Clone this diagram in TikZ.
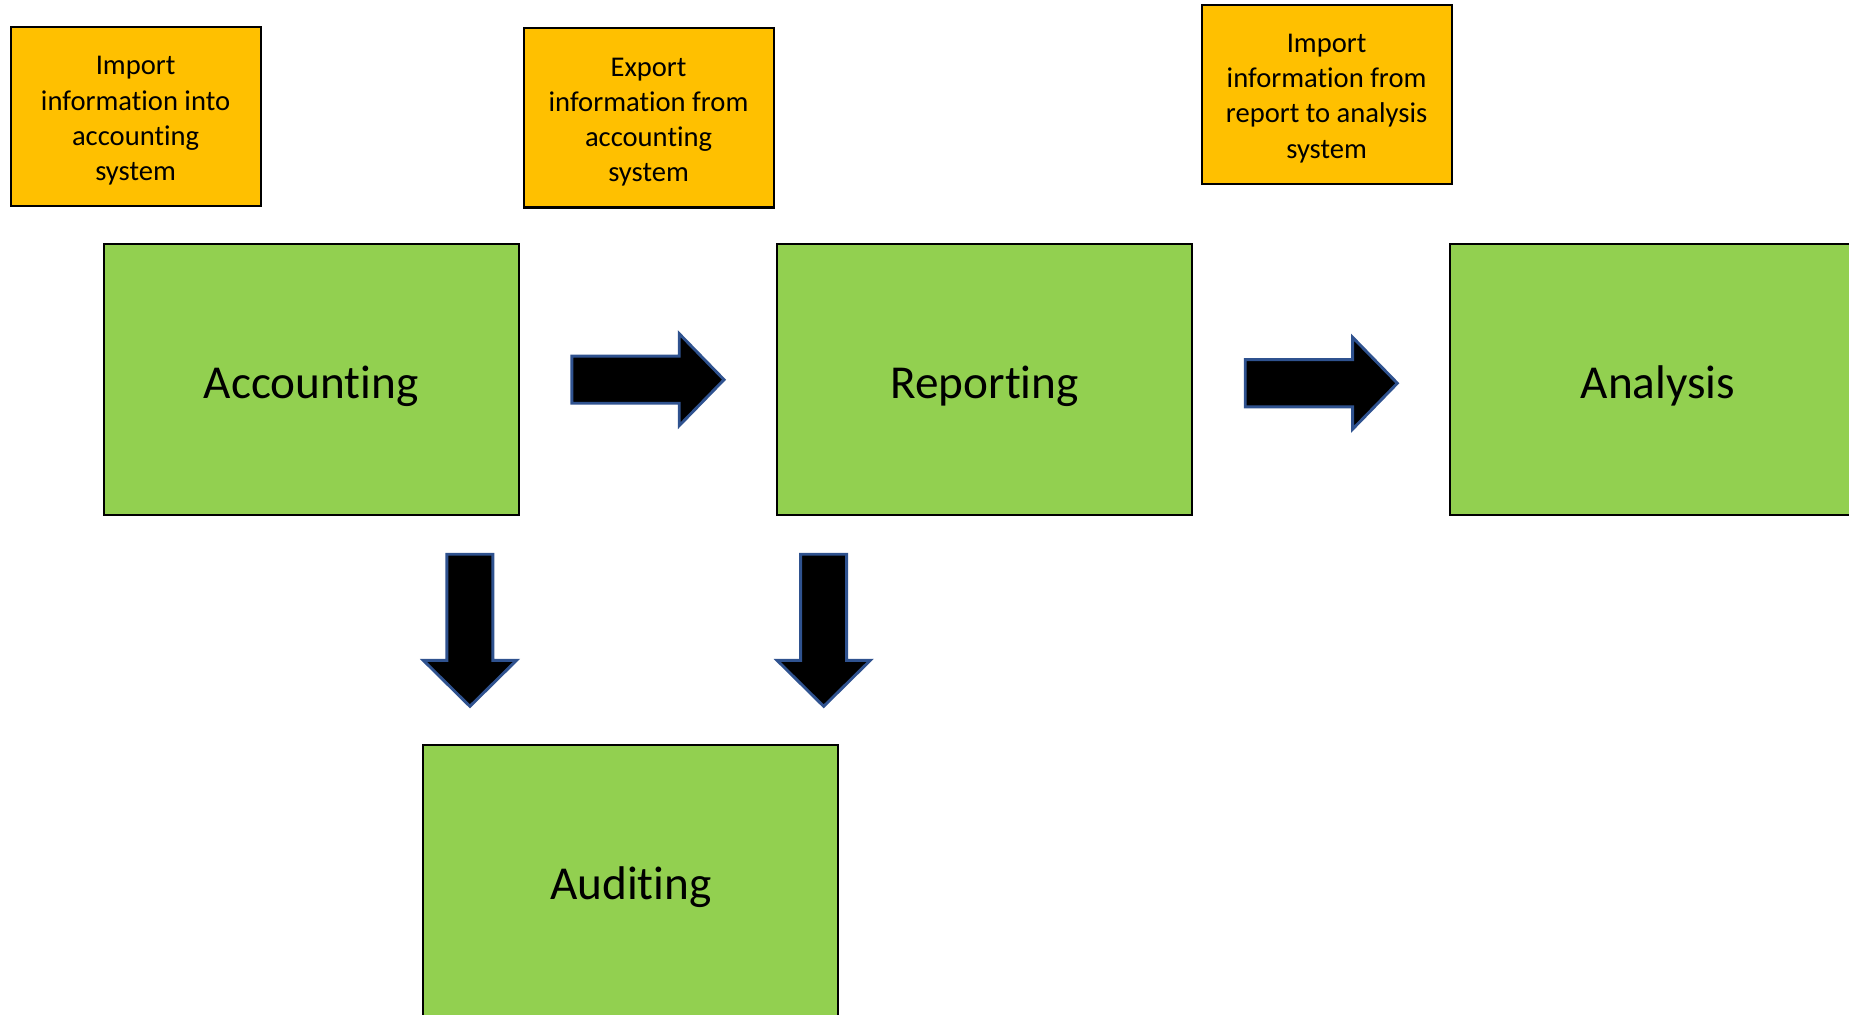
\documentclass[tikz,border=0pt]{standalone}
\usepackage{fontspec}
\setmainfont{Carlito}[Ligatures=NoCommon]
\definecolor{stagegreen}{HTML}{92D050}
\definecolor{noteorange}{HTML}{FFC000}
\definecolor{arrowblue}{HTML}{2F528F}
\tikzset{
	stage/.style={draw=black, fill=stagegreen, line width=0.5pt, minimum width=35.2mm, minimum height=23mm, inner sep=0pt, text height=11.6pt, text depth=2.4pt, font=\fontsize{11.4}{14}\selectfont},
	note/.style={draw=black, fill=noteorange, line width=0.5pt, minimum width=21.2mm, minimum height=15.2mm, inner sep=0pt, align=center, text height=31.9pt, font=\fontsize{6.9}{8.5}\selectfont},
	blockarrow/.style={fill=black, draw=arrowblue, line width=0.7pt, line join=miter}
}
\begin{document}
\begin{tikzpicture}[x=0.1mm, y=-0.1mm]
	\useasboundingbox (0,0) rectangle (1568,860);
	\clip (0,0) rectangle (1568,860);
	% stages
	\node[stage] (accounting) at (264,322) {Accounting};
	\node[stage] (reporting) at (835,322) {Reporting};
	\node[stage] (analysis) at (1406,322) {Analysis};
	\node[stage] (auditing) at (535,747) {Auditing};
	% notes
	\node[note] (importnote) at (115,99) {Import\\information into\\accounting\\system};
	\node[note] (exportnote) at (550,100) {Export\\information from\\accounting\\system};
	\node[note] (analysisnote) at (1125,80) {Import\\information from\\report to analysis\\system};
	% block arrows
	\draw[blockarrow] (485,302) -- ++(91,0) -- ++(0,-19) -- ++(38,39) -- ++(-38,39) -- ++(0,-19) -- ++(-91,0) -- cycle;
	\draw[blockarrow] (1056,305) -- ++(91,0) -- ++(0,-19) -- ++(38,39) -- ++(-38,39) -- ++(0,-19) -- ++(-91,0) -- cycle;
	\draw[blockarrow] (379,470) -- ++(0,90) -- ++(-20,0) -- ++(39.5,39) -- ++(39.5,-39) -- ++(-20,0) -- ++(0,-90) -- cycle;
	\draw[blockarrow] (679,470) -- ++(0,90) -- ++(-20,0) -- ++(39.5,39) -- ++(39.5,-39) -- ++(-20,0) -- ++(0,-90) -- cycle;
\end{tikzpicture}
\end{document}
